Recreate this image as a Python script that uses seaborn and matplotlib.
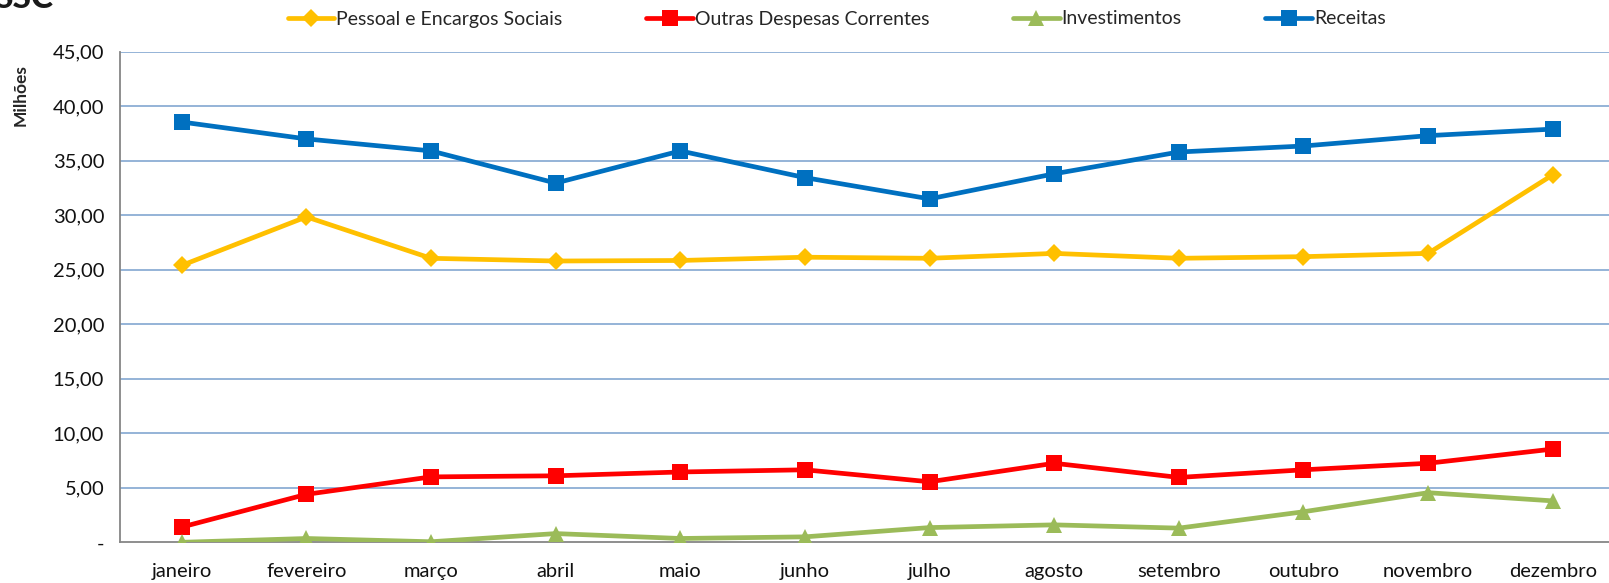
import pandas as pd
import seaborn as sns
import matplotlib.pyplot as plt
import numpy as np


meses = ['janeiro', 'fevereiro', 'março', 'abril', 'maio', 'junho',
         'julho', 'agosto', 'setembro', 'outubro', 'novembro', 'dezembro']

pessoal = [25.4, 29.85, 26.05, 25.8, 25.85, 26.15, 26.05, 26.5, 26.05, 26.2, 26.5, 33.7]
outras = [1.4, 4.4, 6.0, 6.1, 6.45, 6.65, 5.55, 7.25, 5.95, 6.65, 7.25, 8.55]
investimentos = [0.0, 0.35, 0.05, 0.8, 0.35, 0.5, 1.35, 1.6, 1.3, 2.8, 4.55, 3.8]
receitas = [38.55, 37.0, 35.9, 32.95, 35.9, 33.45, 31.5, 33.8, 35.8, 36.35, 37.3, 37.9]

series = ['Pessoal e Encargos Sociais', 'Outras Despesas Correntes', 'Investimentos', 'Receitas']
cores = ['#FFC000', '#FF0000', '#9BBB59', '#0070C0']
marcadores = ['D', 's', '^', 's']
tamanhos = [9, 11, 11.5, 11]
yticks = [0, 5, 10, 15, 20, 25, 30, 35, 40, 45]
ylabels = ['-', '5,00', '10,00', '15,00', '20,00', '25,00', '30,00', '35,00', '40,00', '45,00']

df = pd.DataFrame({'mes': meses * 4,
                   'valor': pessoal + outras + investimentos + receitas,
                   'serie': np.repeat(series, len(meses))})

sns.set_style('white')
plt.rcParams['font.family'] = ['Lato', 'DejaVu Sans']

fig = plt.figure(figsize=(16.09, 5.83), dpi=100)
ax = fig.add_axes([119.5 / 1609, 1 - 542.3 / 583, (1615 - 119.5) / 1609, (542.3 - 51.7) / 583])

grade = '#95B3D7'
for yv in yticks[1:]:
    ax.axhline(yv, color=grade, lw=1.4, zorder=0)

x = np.arange(len(meses))
for nome, cor, mk, ms in zip(series, cores, marcadores, tamanhos):
    sub = df[df['serie'] == nome]
    sns.lineplot(x=x, y=sub['valor'].values, ax=ax, color=cor, lw=3.4, marker=mk,
                 markersize=ms, markeredgewidth=0, label=nome, sort=False, zorder=3)

ax.set_xlim(-0.5, 11.5)
ax.set_ylim(0, 45)
ax.set_yticks(yticks)
ax.set_yticklabels(ylabels, fontsize=14.5, color='#111111')
ax.set_xticks(x)
ax.set_xticklabels(meses, fontsize=14.5, color='#111111')
ax.set_xticks(np.arange(-0.5, 12, 1), minor=True)
ax.tick_params(axis='x', which='major', length=0, pad=15)
ax.tick_params(axis='x', which='minor', length=7, width=1.3, color='#868686', direction='out')
ax.tick_params(axis='y', which='major', length=7, width=1.3, color='#868686', direction='out', pad=4)

for s in ['top', 'right']:
    ax.spines[s].set_visible(False)
for s in ['left', 'bottom']:
    ax.spines[s].set_color('#868686')
    ax.spines[s].set_linewidth(1.3)

ax.set_ylabel('')
ax.get_legend().remove()
fig.text(21 / 1609, 1 - 95 / 583, 'Milhões', rotation=90, fontsize=12.5, fontweight='bold',
         ha='center', va='center')

h, l = ax.get_legend_handles_labels()
fig.legend(h, l, loc='center', bbox_to_anchor=(0.52, 1 - 19 / 583), ncol=4, frameon=False,
           fontsize=14, handlelength=2.4, handletextpad=0.1, columnspacing=4.3)

# pedaco do logotipo cortado no canto
fig.text(53 / 1609, 1 - 8 / 583, 'SSC', fontsize=24, fontweight='black', ha='right',
         va='baseline', color='#1a1a1a')

fig.savefig('out.png', dpi=100)
